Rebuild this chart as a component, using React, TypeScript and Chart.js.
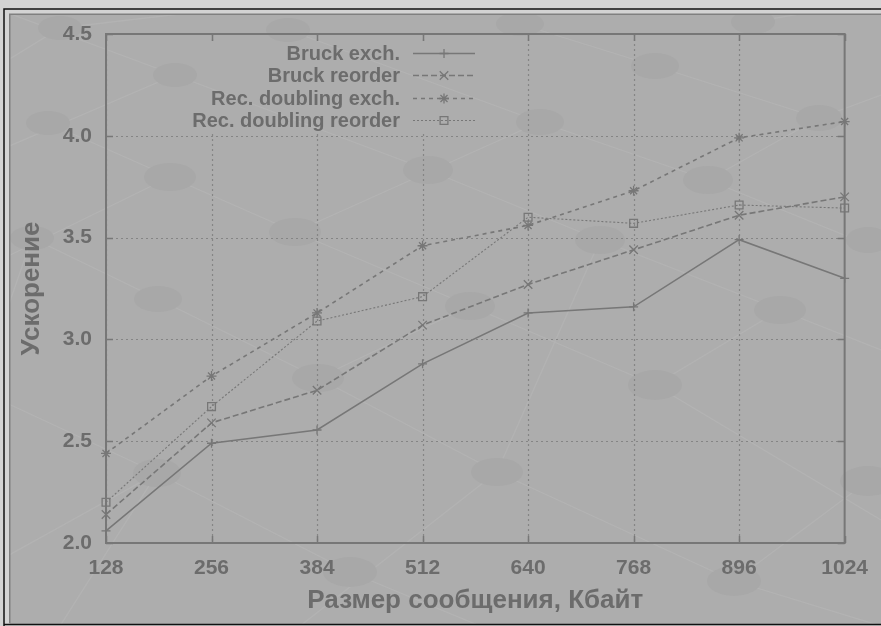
import React, { useEffect, useRef } from 'react';
import { Chart, registerables } from 'chart.js';

Chart.register(...registerables);

// ---- data ----
const categories = ['128', '256', '384', '512', '640', '768', '896', '1024'];
const bruckExch = [2.06, 2.49, 2.555, 2.88, 3.13, 3.16, 3.49, 3.3];
const bruckReorder = [2.14, 2.59, 2.75, 3.07, 3.27, 3.44, 3.61, 3.7];
const recDoublingExch = [2.44, 2.82, 3.13, 3.46, 3.56, 3.73, 3.99, 4.07];
const recDoublingReorder = [2.2, 2.67, 3.09, 3.21, 3.6, 3.57, 3.66, 3.645];
const seriesNames = ['Bruck exch.', 'Bruck reorder', 'Rec. doubling exch.', 'Rec. doubling reorder'];
const yMin = 2.0;
const yMax = 4.5;
const yStep = 0.5;
const xTitle = 'Размер сообщения, Кбайт';
const yTitle = 'Ускорение';

// ---- style ----
const FONT = '"Liberation Sans", Arial, sans-serif';
const TEXT = '#6c6c6c';
const LINE = '#777777';
const BG = '#adadad';
const GRID = '#858585';

// decorative background blobs (watermark-like texture of the source image)
const blobs: [number, number, number, number][] = [
  [60, 28, 22, 12], [175, 75, 22, 12], [48, 123, 22, 12], [170, 177, 26, 14],
  [32, 238, 22, 12], [295, 232, 26, 14], [158, 299, 24, 13], [318, 378, 26, 14],
  [157, 473, 24, 14], [350, 572, 27, 15], [497, 472, 26, 14], [655, 385, 27, 15],
  [734, 581, 27, 15], [780, 310, 26, 14], [819, 118, 23, 13], [708, 180, 25, 14],
  [753, 22, 22, 12], [600, 240, 25, 14], [470, 306, 25, 14], [428, 170, 25, 14],
  [540, 122, 24, 13], [655, 66, 24, 13], [520, 24, 24, 12], [868, 481, 28, 15],
  [288, 30, 22, 12], [868, 240, 22, 13]
];
const webLines: [number, number, number, number][] = [
  [0, 10, 175, 75], [175, 75, 0, 150], [0, 65, 60, 28], [60, 28, 300, 0],
  [175, 75, 428, 170], [48, 123, 170, 177], [170, 177, 0, 260], [170, 177, 295, 232],
  [295, 232, 470, 306], [470, 306, 655, 385], [655, 385, 881, 520], [32, 238, 158, 299],
  [158, 299, 318, 378], [318, 378, 497, 472], [497, 472, 734, 581], [734, 581, 881, 626],
  [0, 400, 157, 473], [157, 473, 350, 572], [350, 572, 480, 626], [157, 473, 0, 560],
  [428, 170, 600, 240], [600, 240, 780, 310], [780, 310, 881, 350], [540, 122, 708, 180],
  [708, 180, 881, 250], [655, 66, 819, 118], [819, 118, 881, 95], [520, 24, 655, 66],
  [753, 22, 881, 0], [288, 30, 540, 122], [295, 232, 540, 122], [470, 306, 318, 378],
  [600, 240, 497, 472], [780, 310, 655, 385], [868, 481, 734, 581], [819, 118, 708, 180],
  [300, 626, 497, 472], [60, 626, 157, 473], [0, 330, 32, 238]
];

const datasetsStyle = [
  { dash: [], width: 1.6, point: 'cross', radius: 4.5 },
  { dash: [6, 3], width: 1.6, point: 'crossRot', radius: 6 },
  { dash: [4, 4], width: 1.6, point: 'star', radius: 5 },
  { dash: [2, 2], width: 1.1, point: 'rect', radius: 5.5 },
];

const keyBox = { left: 180, top: 41, right: 490, bottom: 131 };

function drawMarker(ctx: CanvasRenderingContext2D, style: string, r: number, x: number, y: number) {
  ctx.beginPath();
  const d = r * Math.SQRT1_2;
  if (style === 'cross' || style === 'star') {
    ctx.moveTo(x, y - r); ctx.lineTo(x, y + r);
    ctx.moveTo(x - r, y); ctx.lineTo(x + r, y);
  }
  if (style === 'crossRot' || style === 'star') {
    ctx.moveTo(x - d, y - d); ctx.lineTo(x + d, y + d);
    ctx.moveTo(x - d, y + d); ctx.lineTo(x + d, y - d);
  }
  if (style === 'rect') {
    ctx.rect(x - d, y - d, 2 * d, 2 * d);
  }
  ctx.stroke();
}

const framePlugin = {
  id: 'frame',
  beforeDraw(chart: any) {
    const { ctx, width, height } = chart;
    ctx.save();
    ctx.fillStyle = '#d3d3d3';
    ctx.fillRect(0, 0, width, height);
    ctx.fillStyle = BG;
    ctx.fillRect(10, 14, width - 10, height - 16);
    // texture
    ctx.beginPath();
    ctx.rect(10, 15, width - 10, height - 17);
    ctx.clip();
    ctx.strokeStyle = '#b3b3b3';
    ctx.lineWidth = 1.3;
    webLines.forEach(([a, b, c, d]) => {
      ctx.beginPath();
      ctx.moveTo(a, b);
      ctx.lineTo(c, d);
      ctx.stroke();
    });
    ctx.fillStyle = '#a8a8a8';
    blobs.forEach(([x, y, rx, ry]) => {
      ctx.beginPath();
      ctx.ellipse(x, y, rx, ry, 0, 0, Math.PI * 2);
      ctx.fill();
    });
    ctx.restore();
    ctx.save();
    ctx.strokeStyle = '#111';
    ctx.lineWidth = 1.5;
    ctx.beginPath();
    ctx.moveTo(4, height);
    ctx.lineTo(4, 9);
    ctx.lineTo(width, 9);
    ctx.moveTo(4, 624.5);
    ctx.lineTo(width, 624.5);
    ctx.stroke();
    ctx.strokeStyle = '#808080';
    ctx.lineWidth = 1.5;
    ctx.beginPath();
    ctx.moveTo(9.75, 623.5);
    ctx.lineTo(9.75, 14.25);
    ctx.lineTo(width, 14.25);
    ctx.stroke();
    ctx.restore();
  },
  beforeDatasetsDraw(chart: any) {
    const { ctx, chartArea: a, scales } = chart;
    const xs = scales.x, ys = scales.y;
    ctx.save();
    // grid, left out where the key sits
    ctx.beginPath();
    ctx.rect(a.left, a.top, a.right - a.left, a.bottom - a.top);
    ctx.rect(keyBox.left, keyBox.top, keyBox.right - keyBox.left, keyBox.bottom - keyBox.top);
    ctx.clip('evenodd');
    ctx.strokeStyle = GRID;
    ctx.lineWidth = 1.2;
    ctx.setLineDash([2, 3]);
    categories.forEach((_, i) => {
      const px = Math.round(xs.getPixelForValue(i)) + 0.5;
      ctx.beginPath();
      ctx.moveTo(px, a.top);
      ctx.lineTo(px, a.bottom);
      ctx.stroke();
    });
    for (let v = yMin; v <= yMax + 1e-9; v += yStep) {
      const py = Math.round(ys.getPixelForValue(v)) + 0.5;
      ctx.beginPath();
      ctx.moveTo(a.left, py);
      ctx.lineTo(a.right, py);
      ctx.stroke();
    }
    ctx.restore();
    // border + tick marks
    ctx.save();
    ctx.strokeStyle = LINE;
    ctx.lineWidth = 2;
    ctx.strokeRect(a.left, a.top, a.right - a.left, a.bottom - a.top);
    ctx.lineWidth = 1.5;
    ctx.beginPath();
    categories.forEach((_, i) => {
      const px = Math.round(xs.getPixelForValue(i)) + 0.5;
      ctx.moveTo(px, a.bottom);
      ctx.lineTo(px, a.bottom - 7);
      ctx.moveTo(px, a.top);
      ctx.lineTo(px, a.top + 7);
    });
    for (let v = yMin; v <= yMax + 1e-9; v += yStep) {
      const py = Math.round(ys.getPixelForValue(v)) + 0.5;
      ctx.moveTo(a.left, py);
      ctx.lineTo(a.left + 7, py);
      ctx.moveTo(a.right, py);
      ctx.lineTo(a.right - 7, py);
    }
    ctx.stroke();
    ctx.restore();
  },
  afterDatasetsDraw(chart: any) {
    const { ctx } = chart;
    const rowsY = [53, 75, 98, 120];
    const textRight = 400;
    const sx0 = 413, sx1 = 475;
    ctx.save();
    ctx.font = `bold 20px ${FONT}`;
    ctx.fillStyle = TEXT;
    ctx.textAlign = 'right';
    ctx.textBaseline = 'middle';
    chart.data.datasets.forEach((ds: any, i: number) => {
      const y = rowsY[i];
      ctx.fillText(ds.label, textRight, y + 1);
      ctx.save();
      ctx.strokeStyle = ds.borderColor;
      ctx.lineWidth = ds.borderWidth;
      ctx.setLineDash(ds.borderDash || []);
      ctx.beginPath();
      ctx.moveTo(sx0, y + 0.5);
      ctx.lineTo(sx1, y + 0.5);
      ctx.stroke();
      ctx.restore();
      ctx.save();
      ctx.setLineDash([]);
      ctx.strokeStyle = ds.pointBorderColor;
      ctx.lineWidth = ds.pointBorderWidth;
      drawMarker(ctx, ds.pointStyle, ds.pointRadius, (sx0 + sx1) / 2, y + 0.5);
      ctx.restore();
    });
    ctx.restore();
  },
};

export default function App() {
  const ref = useRef<HTMLCanvasElement | null>(null);
  useEffect(() => {
    if (!ref.current) return;
    const series = [bruckExch, bruckReorder, recDoublingExch, recDoublingReorder];
    const chart = new Chart(ref.current, {
      type: 'line',
      data: {
        labels: categories,
        datasets: series.map((data, i) => ({
          label: seriesNames[i],
          data,
          borderColor: LINE,
          borderWidth: datasetsStyle[i].width,
          borderDash: datasetsStyle[i].dash,
          pointStyle: datasetsStyle[i].point as any,
          pointRadius: datasetsStyle[i].radius,
          pointBorderColor: LINE,
          pointBackgroundColor: 'rgba(0,0,0,0)',
          pointBorderWidth: 1.3,
          fill: false,
          tension: 0,
        })),
      },
      options: {
        responsive: false,
        animation: false,
        devicePixelRatio: 1,
        layout: { padding: { left: 16, right: 36, top: 34, bottom: 10 } },
        plugins: { legend: { display: false }, tooltip: { enabled: false } },
        scales: {
          x: {
            type: 'category',
            offset: false,
            grid: { display: false, drawTicks: false },
            border: { display: false },
            ticks: {
              color: TEXT,
              font: { family: FONT, size: 21, weight: 'bold' },
              padding: 13,
              maxRotation: 0,
              autoSkip: false,
            },
            title: {
              display: true,
              text: xTitle,
              color: TEXT,
              padding: 0,
              font: { family: FONT, size: 26, weight: 'bold' },
            },
            afterFit: (s: any) => { s.height = 73; },
          },
          y: {
            min: yMin,
            max: yMax,
            grid: { display: false, drawTicks: false },
            border: { display: false },
            ticks: {
              stepSize: yStep,
              color: TEXT,
              font: { family: FONT, size: 21, weight: 'bold' },
              padding: 14,
              callback: (v: any) => Number(v).toFixed(1),
            },
            title: {
              display: true,
              text: yTitle,
              color: TEXT,
              padding: 0,
              font: { family: FONT, size: 26, weight: 'bold' },
            },
            afterFit: (s: any) => { s.width = 90; },
          },
        },
      },
      plugins: [framePlugin],
    });
    return () => chart.destroy();
  }, []);
  return (
    <div style={{ position: 'fixed', left: 0, top: 0, width: 881, height: 626 }}>
      <canvas ref={ref} width={881} height={626} style={{ display: 'block', width: 881, height: 626 }} />
    </div>
  );
}
